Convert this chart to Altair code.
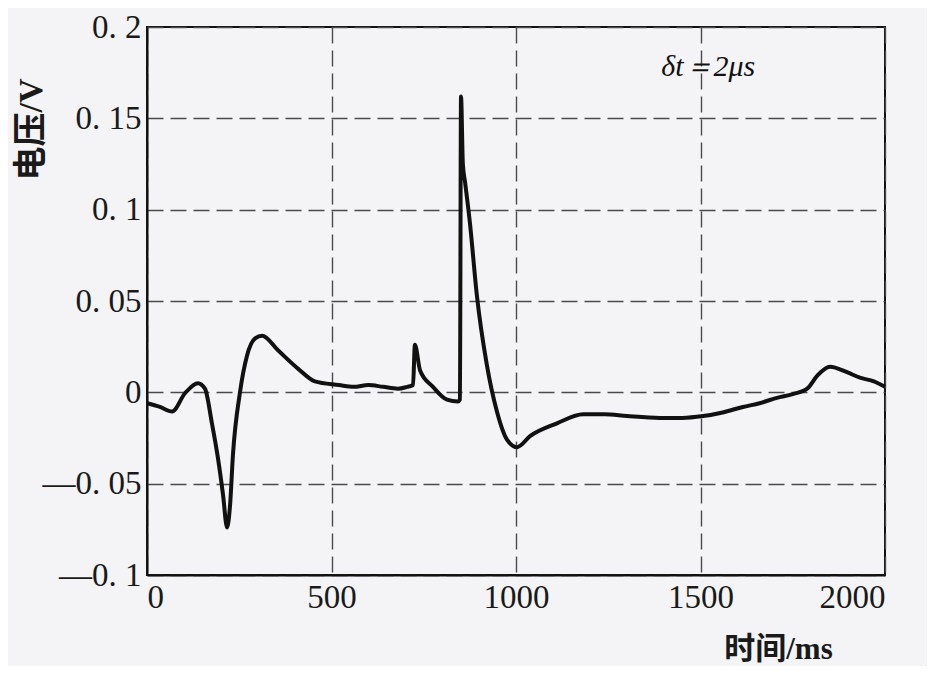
import altair as alt
import pandas as pd

# Data
time_ms = [0, 35, 68, 103, 138, 157, 176, 193, 206, 217, 225, 233, 252, 271, 293,
           312, 355, 409, 455, 520, 560, 600, 640, 680, 705, 721, 726, 740, 775,
           813, 843, 848, 851, 856, 862, 875, 894, 921, 949, 976, 1003, 1038, 1111,
           1182, 1240, 1301, 1390, 1450, 1507, 1560, 1615, 1660, 1707, 1750, 1789,
           1816, 1851, 1897, 1932, 1970, 2000]
voltage_v = [-0.006, -0.008, -0.0105, -0.0005, 0.005, 0.002, -0.017, -0.037, -0.056,
             -0.074, -0.062, -0.034, 0.000, 0.020, 0.0295, 0.031, 0.023, 0.013,
             0.006, 0.004, 0.003, 0.004, 0.003, 0.002, 0.003, 0.004, 0.026, 0.012,
             0.003, -0.004, -0.005, -0.004, 0.162, 0.125, 0.115, 0.093, 0.053,
             0.015, -0.011, -0.026, -0.030, -0.024, -0.017, -0.012, -0.012, -0.013,
             -0.014, -0.014, -0.013, -0.011, -0.008, -0.006, -0.003, -0.001, 0.002,
             0.009, 0.014, 0.011, 0.008, 0.006, 0.003]

x_ticks = [0, 500, 1000, 1500, 2000]
y_ticks = [-0.1, -0.05, 0, 0.05, 0.1, 0.15, 0.2]

ann_label = ["δt＝2μs"]
ann_t = [1521]
ann_v = [0.178]

df = pd.DataFrame({"t": time_ms, "v": voltage_v})
ann = pd.DataFrame({"t": ann_t, "v": ann_v, "label": ann_label})

FONT = "Liberation Serif, Noto Sans CJK SC"
GRID = dict(grid=True, gridDash=[16, 7], gridColor="#4a4a4a", gridWidth=1.4,
            ticks=False, domainColor="#111", domainWidth=2,
            labelFont="Liberation Serif", labelFontSize=33, labelColor="#1a1a1a",
            titleFont=FONT, titleFontWeight="bold", titleColor="#1a1a1a")

x = alt.X("t:Q",
          scale=alt.Scale(domain=[0, 2000], nice=False, zero=False),
          axis=alt.Axis(values=x_ticks, title="时间/ms", labelPadding=6,
                        format="d", titleFontSize=31,
                        titleX=631, titleY=74, titleAlign="center",
                        titleBaseline="middle", **GRID))
y = alt.Y("v:Q",
          scale=alt.Scale(domain=[-0.1, 0.2], nice=False, zero=False),
          axis=alt.Axis(values=y_ticks, title="电压/V", labelPadding=6,
                        labelExpr="datum.value == 0 ? '0' : (datum.value < 0 ? '—' : '') + replace(format(abs(datum.value), '.2~f'), '.', '. ')",
                        titleFontSize=34,
                        titleX=-116, titleY=102, titleAlign="center",
                        titleBaseline="middle", titleAngle=270, **GRID))

line = alt.Chart(df).mark_line(color="#111111", strokeWidth=4,
                               strokeJoin="round", interpolate="monotone").encode(x=x, y=y)

text = alt.Chart(ann).mark_text(font="Liberation Serif", fontStyle="italic",
                                fontSize=30, color="#111111").encode(
    x=alt.X("t:Q"), y=alt.Y("v:Q"), text="label:N")

chart = (line + text).properties(
    width=738, height=548,
    padding={"left": 139, "top": 19, "right": 42, "bottom": 91},
    autosize=alt.AutoSizeParams(type="none"),
    background="#f4f4f7",
).configure_view(stroke="#111111", strokeWidth=2)

chart.save("out.html", embed_options={"renderer": "svg", "actions": False})
